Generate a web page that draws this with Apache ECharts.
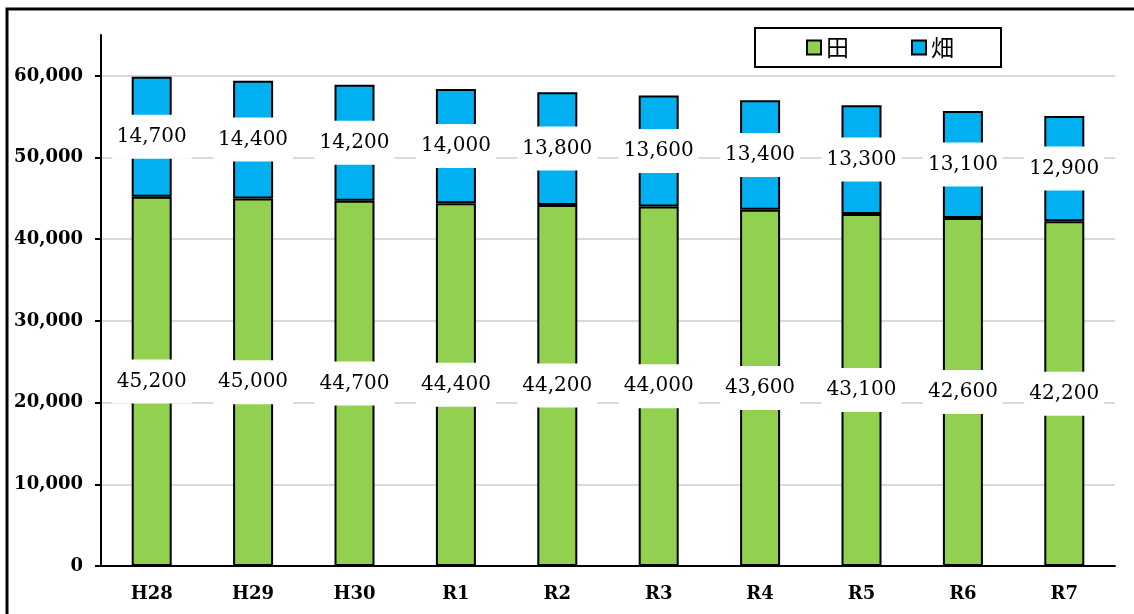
<!DOCTYPE html>
<html>
<head>
<meta charset="utf-8">
<script src="https://cdn.jsdelivr.net/npm/echarts@6/dist/echarts.min.js"></script>
<style>
  html, body { margin: 0; padding: 0; background: #fff; }
  #chart { width: 1134px; height: 614px; }
</style>
</head>
<body>
<div id="chart"></div>
<script>
// Fiscal years (Heisei / Reiwa)
const years = ['H28', 'H29', 'H30', 'R1', 'R2', 'R3', 'R4', 'R5', 'R6', 'R7'];
// Paddy field area
const paddy = [45200, 45000, 44700, 44400, 44200, 44000, 43600, 43100, 42600, 42200];
// Upland field area
const upland = [14700, 14400, 14200, 14000, 13800, 13600, 13400, 13300, 13100, 12900];
const seriesNames = ['田', '畑'];

const fmt = v => String(v).replace(/\B(?=(\d{3})+(?!\d))/g, ',');
const serif = 'DejaVu Serif';

// value labels sit in the middle of each segment on a white plate
const valueLabel = {
  show: true,
  position: 'inside',
  formatter: p => fmt(p.value),
  color: '#000',
  fontFamily: serif,
  fontSize: 20,
  lineHeight: 22,
  backgroundColor: '#fff',
  padding: [11, 5]
};

const chart = echarts.init(document.getElementById('chart'), null, { renderer: 'canvas' });
chart.setOption({
  backgroundColor: '#fff',
  animation: false,
  graphic: [{
    type: 'rect',
    shape: { x: 7, y: 9, width: 1200, height: 700 },
    style: { fill: 'none', stroke: '#000', lineWidth: 3 },
    silent: true,
    z: 100
  }],
  legend: {
    data: seriesNames,
    icon: 'rect',
    left: 755,
    top: 28,
    orient: 'horizontal',
    padding: [8, 47, 8, 51],
    itemWidth: 14,
    itemHeight: 14,
    itemGap: 62,
    borderColor: '#000',
    borderWidth: 2,
    itemStyle: { borderColor: '#000', borderWidth: 2 },
    textStyle: { fontFamily: 'Noto Sans CJK JP', fontSize: 23, color: '#000' }
  },
  grid: { left: 101, right: 19, top: 35, bottom: 48, containLabel: false },
  xAxis: {
    type: 'category',
    data: years,
    axisLine: { lineStyle: { color: '#000', width: 2 } },
    axisTick: { show: false },
    axisLabel: { color: '#000', fontFamily: serif, fontWeight: 'bold', fontSize: 18, margin: 19 }
  },
  yAxis: {
    type: 'value',
    min: 0,
    max: 65000,
    interval: 10000,
    axisLine: { show: true, lineStyle: { color: '#000', width: 2 } },
    axisTick: { show: true, length: 6, lineStyle: { color: '#000', width: 2 } },
    axisLabel: {
      color: '#000', fontFamily: serif, fontWeight: 'bold', fontSize: 18, margin: 18,
      showMaxLabel: false,
      formatter: v => (v % 10000 === 0 ? fmt(v) : '')
    },
    splitLine: {
      show: true,
      lineStyle: {
        width: 2,
        color: ['#d9d9d9', '#d9d9d9', '#d9d9d9', '#d9d9d9', '#d9d9d9', '#d9d9d9', '#d9d9d9', 'rgba(0,0,0,0)']
      }
    }
  },
  series: [
    {
      name: seriesNames[0],
      type: 'bar',
      stack: 'area',
      data: paddy,
      barWidth: 40,
      itemStyle: { color: '#92D050', borderColor: '#000', borderWidth: 2 },
      label: valueLabel
    },
    {
      name: seriesNames[1],
      type: 'bar',
      stack: 'area',
      data: upland,
      barWidth: 40,
      itemStyle: { color: '#00B0F0', borderColor: '#000', borderWidth: 2 },
      label: valueLabel
    }
  ]
});
</script>
</body>
</html>
